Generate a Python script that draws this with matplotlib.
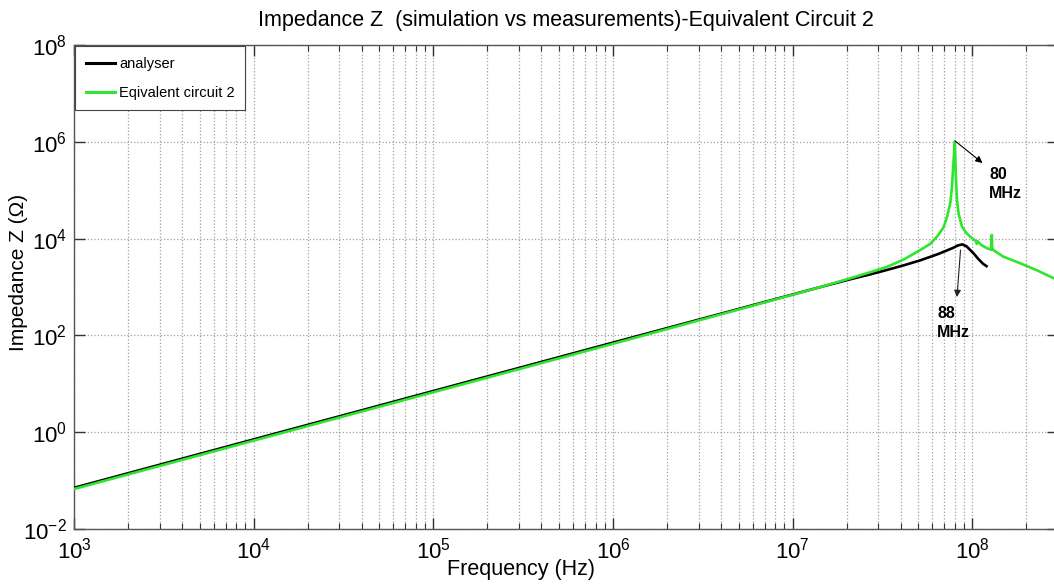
import math
import matplotlib
matplotlib.use("Agg")
import matplotlib.pyplot as plt
from matplotlib.ticker import FixedLocator, FuncFormatter, LogLocator, NullLocator

plt.rcParams['font.family'] = ['Liberation Sans', 'DejaVu Sans']
plt.rcParams['mathtext.fontset'] = 'custom'
plt.rcParams['mathtext.rm'] = 'Liberation Sans'
plt.rcParams['mathtext.it'] = 'Liberation Sans:italic'
plt.rcParams['mathtext.bf'] = 'Liberation Sans:bold'

# ---- data ----
analyser_f = [1e3, 1e4, 1e5, 1e6, 1e7, 1.43e7, 2.18e7, 2.7e7, 3.35e7, 4.15e7, 5.13e7,
              6.36e7, 7.23e7, 7.87e7, 8.3e7, 8.8e7, 9.3e7, 9.75e7, 1.02e8, 1.08e8,
              1.15e8, 1.2e8]
analyser_z = [0.071, 0.71, 7.1, 71, 700, 1000, 1500, 1820, 2250, 2800, 3550,
              4700, 5700, 6500, 7200, 7600, 6900, 5800, 4900, 3800,
              3000, 2700]

circuit_f = [1e3, 1e4, 1e5, 1e6, 1e7, 1.43e7, 2.18e7, 2.7e7, 3.35e7, 4.15e7, 5.13e7,
             5.84e7, 6.36e7, 6.92e7, 7.23e7, 7.55e7, 7.71e7, 7.87e7, 7.95e7, 8.0e7,
             8.05e7, 8.12e7, 8.22e7, 8.4e7, 8.77e7, 9.2e7, 9.75e7, 1.03e8, 1.05e8,
             1.06e8, 1.07e8, 1.12e8, 1.21e8, 1.27e8, 1.285e8, 1.29e8, 1.295e8, 1.31e8,
             1.49e8, 1.85e8, 2.3e8, 2.82e8, 3e8]
circuit_z = [0.067, 0.67, 6.7, 67, 690, 1000, 1580, 2020, 2600, 3700, 5800,
             7800, 11000, 17000, 28000, 55000, 118000, 420000, 700000, 1.0e6,
             450000, 160000, 62000, 32000, 17600, 13500, 10900, 9300, 8800,
             7800, 8800, 7400, 6300, 5900, 11900, 7000, 6000, 5800,
             4230, 3090, 2200, 1535, 1400]

x_ticks = [1e3, 1e4, 1e5, 1e6, 1e7, 1e8]
y_ticks = [1e-2, 1e0, 1e2, 1e4, 1e6, 1e8]
series_labels = ['analyser', 'Eqivalent circuit 2']
title_text = 'Impedance Z  (simulation vs measurements)-Equivalent Circuit 2'
xlabel_text = 'Frequency (Hz)'
ylabel_text = 'Impedance Z (\u03a9)'

# ---- figure ----
W, H = 1054, 584
fig = plt.figure(figsize=(W / 100, H / 100), dpi=100)
ax_left, ax_right, ax_top, ax_bottom = 74, 1058, 45, 529
ax = fig.add_axes([ax_left / W, (H - ax_bottom) / H,
                   (ax_right - ax_left) / W, (ax_bottom - ax_top) / H])

ax.plot(analyser_f, analyser_z, color='black', lw=1.9, label=series_labels[0], zorder=3)
ax.plot(circuit_f, circuit_z, color='#2ee62e', lw=1.9, label=series_labels[1], zorder=4)

ax.set_xscale('log')
ax.set_yscale('log')
ax.set_xlim(1e3, 3e8)
ax.set_ylim(1e-2, 1e8)

ax.xaxis.set_major_locator(FixedLocator(x_ticks))
ax.xaxis.set_minor_locator(LogLocator(base=10, subs=[2, 3, 4, 5, 6, 7, 8, 9], numticks=20))
ax.yaxis.set_major_locator(FixedLocator(y_ticks))
ax.yaxis.set_minor_locator(NullLocator())

def fmt(v, pos):
    e = int(round(math.log10(v)))
    return r'$\mathregular{10^{%d}}$' % e

ax.xaxis.set_major_formatter(FuncFormatter(fmt))
ax.yaxis.set_major_formatter(FuncFormatter(fmt))

ax.tick_params(which='both', direction='in', top=True, right=True, colors='#333333',
               labelcolor='black', labelsize=16)
ax.tick_params(which='major', length=8, width=1)
ax.tick_params(which='minor', length=4, width=0.8)
ax.tick_params(axis='x', pad=6)
ax.tick_params(axis='y', pad=5)

ax.grid(True, which='major', axis='both', ls=':', color='#a0a0a0', lw=0.9)
ax.grid(True, which='minor', axis='x', ls=':', color='#a0a0a0', lw=0.9)

for s in ax.spines.values():
    s.set_color('#555555')
    s.set_linewidth(1.0)

ax.set_title(title_text, fontsize=15.5, pad=14)
ax.set_xlabel(xlabel_text, fontsize=15.5)
ax.xaxis.set_label_coords((521 - ax_left) / (ax_right - ax_left), -(569 - ax_bottom) / (ax_bottom - ax_top))
ax.xaxis.label.set_va('center')
ax.set_ylabel(ylabel_text, fontsize=15)
ax.yaxis.set_label_coords((19 - ax_left) / (ax_right - ax_left), (ax_bottom - 272) / (ax_bottom - ax_top))
ax.yaxis.label.set_va('center')

leg = ax.legend(loc='upper left', borderaxespad=0.1, fontsize=10.5, fancybox=False,
                edgecolor='#444444', framealpha=1, handlelength=2.0, handletextpad=0.3,
                labelspacing=1.05, borderpad=0.7)
leg.get_frame().set_linewidth(0.8)
for line in leg.get_lines():
    line.set_linewidth(2.2)

# annotations
arrow_kw = dict(arrowstyle='-|>', color='black', lw=0.8, mutation_scale=10, shrinkA=0, shrinkB=0)
ax.annotate('', xy=(1.14e8, 3.65e5), xytext=(8.0e7, 1.05e6), arrowprops=arrow_kw, zorder=6)
ax.text(1.24e8, 3.0e5, '80\nMHz', fontsize=11.5, fontweight='bold', ha='left', va='top',
        linespacing=1.3, zorder=6)
ax.annotate('', xy=(8.22e7, 621), xytext=(8.6e7, 5800), arrowprops=dict(arrow_kw, color='#222222'), zorder=6)
ax.text(6.38e7, 400, '88\nMHz', fontsize=11.5, fontweight='bold', ha='left', va='top',
        linespacing=1.3, zorder=6)

fig.savefig('out.png', dpi=100)
